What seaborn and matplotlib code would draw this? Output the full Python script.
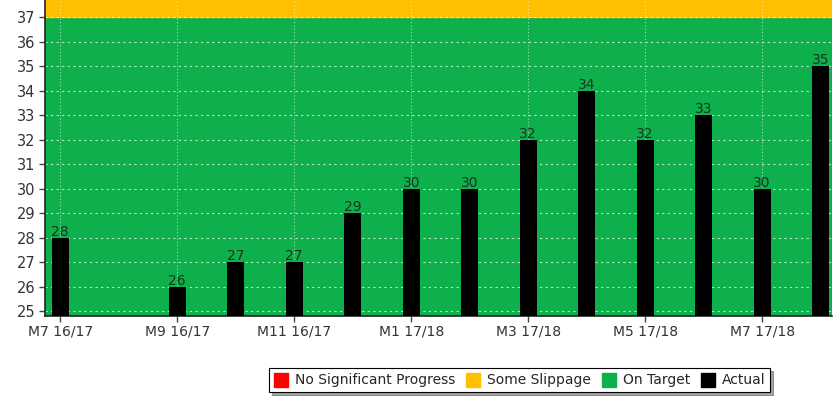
import matplotlib
matplotlib.use("Agg")
import matplotlib.pyplot as plt
import matplotlib.patches as mpatches
import numpy as np
import seaborn as sns

months = ["M7 16/17", "M8 16/17", "M9 16/17", "M10 16/17", "M11 16/17", "M12 16/17",
          "M1 17/18", "M2 17/18", "M3 17/18", "M4 17/18", "M5 17/18", "M6 17/18",
          "M7 17/18", "M8 17/18"]
actual = [28, np.nan, 26, 27, 27, 29, 30, 30, 32, 34, 32, 33, 30, 35]
shown_ticks = ["M7 16/17", "M9 16/17", "M11 16/17", "M1 17/18", "M3 17/18", "M5 17/18", "M7 17/18"]
legend_names = ["No Significant Progress", "Some Slippage", "On Target", "Actual"]
legend_colors = ["#ff0000", "#ffc000", "#0db04b", "#000000"]
target_top = 37

sns.set_style("white")
plt.rcParams["font.family"] = ["DejaVu Sans"]

fig = plt.figure(figsize=(8.34, 3.98), dpi=100)
ax = fig.add_axes([0.054, 0.206, 0.944, 0.794])

ymin, ymax = 24.8, 37.7
ax.axhspan(ymin, target_top, color="#0db04b", zorder=0)
ax.axhspan(target_top, ymax, color="#ffc000", zorder=0)

sns.barplot(x=months, y=actual, order=months, color="black", width=0.29,
            saturation=1, linewidth=0, ax=ax, zorder=3)

# value labels on top of each bar (skip the missing month)
for bar in ax.containers[0]:
    if bar is None or np.isnan(bar.get_height()):
        continue
    ax.text(bar.get_x() + bar.get_width() / 2, bar.get_height() - 0.05,
            f"{int(bar.get_height())}", ha="center", va="bottom",
            fontsize=10, color="#1c3320", zorder=4)

ax.set_ylim(ymin, ymax)
ax.set_xlim(-0.26, 13.2)
ax.set_yticks(range(25, 38))
ax.set_xticks([months.index(m) for m in shown_ticks])
ax.set_xticklabels(shown_ticks)
ax.tick_params(axis="both", labelsize=10, labelcolor="#333333", length=4,
               color="#444444", width=1, direction="out", left=True, bottom=True)
ax.tick_params(axis="y", pad=3, labelsize=10.5)
ax.tick_params(axis="x", pad=2)

for y in range(25, 38):
    ax.axhline(y, color="white", lw=0.8, ls=(0, (2, 3)), alpha=0.7, zorder=1)
for x in ax.get_xticks():
    ax.axvline(x, color="white", lw=0.8, ls=(0, (1, 2)), alpha=0.6, zorder=1)

for side in ["top", "right"]:
    ax.spines[side].set_visible(False)
for side in ["left", "bottom"]:
    ax.spines[side].set_color("#222222")
    ax.spines[side].set_linewidth(1.2)

handles = [mpatches.Patch(facecolor=c, edgecolor=c) for c in legend_colors]
leg = fig.legend(handles, legend_names, ncol=4, loc="center",
                 bbox_to_anchor=(0.623, 0.045), frameon=True, fancybox=False,
                 shadow=True, edgecolor="black", fontsize=10,
                 handlelength=1.0, handleheight=1.2, handletextpad=0.5,
                 columnspacing=0.8, borderpad=0.35)
leg.get_frame().set_linewidth(0.8)

fig.savefig("out.png", dpi=100)
